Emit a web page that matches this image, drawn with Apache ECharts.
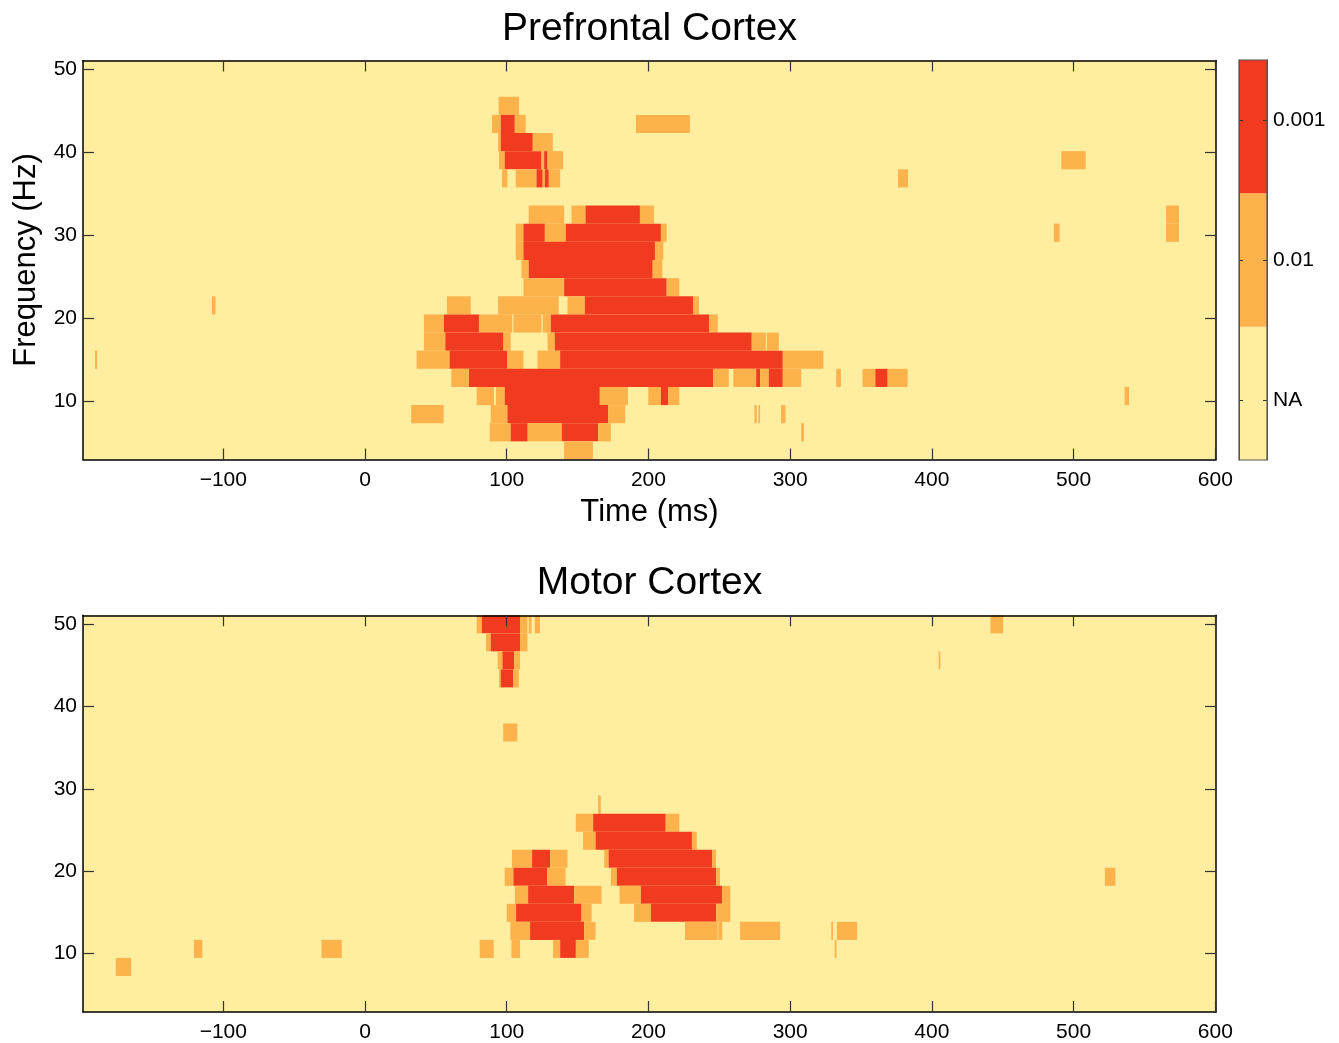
<!DOCTYPE html>
<html>
<head>
<meta charset="utf-8">
<script src="https://cdn.jsdelivr.net/npm/echarts@6/dist/echarts.min.js"></script>
<style>
html,body{margin:0;padding:0;background:#fff;}
#chart{width:1339px;height:1043px;}
</style>
</head>
<body>
<div id="chart"></div>
<script>
// ---- DATA ----
const panelTitles = ['Prefrontal Cortex', 'Motor Cortex'];
// frequency bin centres (Hz), 22 rows
const freqs = [4.00, 6.19, 8.38, 10.57, 12.76, 14.95, 17.14, 19.33, 21.52, 23.71, 25.90,
               28.10, 30.29, 32.48, 34.67, 36.86, 39.05, 41.24, 43.43, 45.62, 47.81, 50.00];
const xTickValues = [-100, 0, 100, 200, 300, 400, 500, 600];
const yTickValues = [10, 20, 30, 40, 50];
const levelNames = ['NA', '0.01', '0.001'];
// significant runs: [startMs, endMs, freqHz, level]  level 1 = p<0.01, 2 = p<0.001
const pfcRuns = [
  [94.3,108.7,45.62,1],
  [89.6,95.8,43.43,1],[95.8,105.7,43.43,2],[105.7,113.4,43.43,1],[191.2,229.3,43.43,1],
  [93.9,95.8,41.24,1],[95.8,118.4,41.24,2],[118.4,132.5,41.24,1],
  [94.6,98.6,39.05,1],[98.6,124.5,39.05,2],[124.5,126.4,39.05,1],[126.4,128.8,39.05,2],[128.8,139.8,39.05,1],[491.3,508.5,39.05,1],
  [96.7,100.5,36.86,1],[106.4,121.0,36.86,1],[121.0,125.4,36.86,2],[125.4,126.9,36.86,1],[126.9,129.7,36.86,2],[129.7,137.7,36.86,1],[376.1,383.2,36.86,1],
  [115.5,140.5,32.48,1],[145.7,155.6,32.48,1],[155.6,194.0,32.48,2],[194.0,203.9,32.48,1],[565.2,574.4,32.48,1],
  [106.4,111.8,30.29,1],[111.8,126.9,30.29,2],[126.9,141.7,30.29,1],[141.7,208.8,30.29,2],[208.8,212.9,30.29,1],[486.1,490.1,30.29,1],[565.2,574.4,30.29,1],
  [106.4,111.8,28.10,1],[111.8,204.6,28.10,2],[204.6,210.5,28.10,1],
  [110.4,115.5,25.90,1],[115.5,203.0,25.90,2],[203.0,209.8,25.90,1],
  [111.8,140.5,23.71,1],[140.5,212.9,23.71,2],[212.9,221.8,23.71,1],
  [-108.0,-105.5,21.52,1],[57.8,74.6,21.52,1],[93.9,136.7,21.52,1],[142.9,155.1,21.52,1],[155.1,231.7,21.52,2],[231.7,235.7,21.52,1],
  [41.6,55.7,19.33,1],[55.7,80.4,19.33,2],[80.4,103.9,19.33,1],[104.7,124.5,19.33,1],[125.4,131.1,19.33,1],[131.1,242.8,19.33,2],[242.8,248.9,19.33,1],
  [41.6,56.7,17.14,1],[56.7,97.7,17.14,2],[97.7,102.8,17.14,1],[128.8,133.9,17.14,1],[133.9,272.9,17.14,2],[272.9,282.8,17.14,1],[283.5,292.0,17.14,1],
  [-190.5,-189.0,14.95,1],[36.4,59.7,14.95,1],[59.7,100.5,14.95,2],[100.5,111.8,14.95,1],[121.7,137.7,14.95,1],[137.7,294.8,14.95,2],[294.8,323.5,14.95,1],
  [60.9,73.4,12.76,1],[73.4,245.8,12.76,2],[245.8,256.7,12.76,1],[259.9,276.0,12.76,1],[276.0,278.8,12.76,2],[278.8,284.9,12.76,1],[284.9,294.8,12.76,2],[294.8,307.8,12.76,1],[332.5,335.8,12.76,1],[351.1,360.1,12.76,1],[360.1,368.8,12.76,2],[368.8,382.9,12.76,1],
  [78.8,91.0,10.57,1],[92.4,98.6,10.57,1],[98.6,165.7,10.57,2],[165.7,185.5,10.57,1],[199.9,208.8,10.57,1],[208.8,213.8,10.57,2],[213.8,221.8,10.57,1],[536.0,539.1,10.57,1],
  [32.6,55.5,8.38,1],[88.7,100.5,8.38,1],[100.5,171.6,8.38,2],[171.6,183.6,8.38,1],[274.8,276.5,8.38,1],[277.6,278.8,8.38,1],[293.6,296.7,8.38,1],
  [88.0,102.8,6.19,1],[102.8,114.8,6.19,2],[114.8,138.9,6.19,1],[138.9,164.5,6.19,2],[164.5,173.5,6.19,1],[307.8,309.7,6.19,1],
  [140.5,160.8,4.00,1]
];
const mcRuns = [
  [78.8,82.5,50.00,1],[82.5,109.4,50.00,2],[109.4,114.6,50.00,1],[115.5,117.5,50.00,1],[119.8,123.5,50.00,1],[441.3,450.3,50.00,1],
  [85.4,88.7,47.81,1],[88.7,109.4,47.81,2],[109.4,114.6,47.81,1],
  [93.6,97.0,45.62,1],[97.0,105.2,45.62,2],[105.2,109.4,45.62,1],[404.8,406.0,45.62,1],
  [94.6,95.8,43.43,1],[95.8,104.7,43.43,2],[104.7,108.5,43.43,1],
  [97.5,107.5,36.86,1],
  [164.5,166.4,28.10,1],
  [148.8,161.0,25.90,1],[161.0,212.2,25.90,2],[212.2,221.8,25.90,1],
  [153.9,162.7,23.71,1],[162.7,230.7,23.71,2],[230.7,234.1,23.71,1],
  [103.7,117.9,21.52,1],[117.9,130.6,21.52,2],[130.6,142.9,21.52,1],[168.8,171.9,21.52,1],[171.9,245.1,21.52,2],[245.1,247.7,21.52,1],
  [98.6,104.7,19.33,1],[104.7,128.5,19.33,2],[128.5,141.5,19.33,1],[173.5,177.7,19.33,1],[177.7,247.9,19.33,2],[247.9,250.5,19.33,1],[522.1,529.5,19.33,1],
  [105.7,115.1,17.14,1],[115.1,147.6,17.14,2],[147.6,166.9,17.14,1],[179.6,194.7,17.14,1],[194.7,251.9,17.14,2],[251.9,257.8,17.14,1],
  [100.0,106.6,14.95,1],[106.6,152.8,14.95,2],[152.8,159.9,14.95,1],[189.8,201.8,14.95,1],[201.8,247.7,14.95,2],[247.7,257.8,14.95,1],
  [102.6,116.5,12.76,1],[116.5,154.6,12.76,2],[154.6,162.7,12.76,1],[225.8,248.9,12.76,1],[249.3,252.1,12.76,1],[264.7,292.9,12.76,1],[329.0,330.2,12.76,1],[333.0,347.3,12.76,1],
  [-120.7,-114.8,10.57,1],[-30.7,-16.4,10.57,1],[80.9,90.8,10.57,1],[103.3,109.4,10.57,1],[132.7,137.7,10.57,1],[137.7,148.8,10.57,2],[148.8,157.9,10.57,1],[331.4,332.7,10.57,1],
  [-175.8,-165.0,8.38,1]
];
const colorbarBlocks = [[0,1,0],[1,2,1],[2,3,2]];
const colorbarTickPos = [0.45, 1.5, 2.55];

// ---- STYLE ----
const FONT = 'Liberation Sans, Arial, Helvetica, sans-serif';
const COLORS = ['#FFEDA0', '#FEB24C', '#F03B20'];
const HALF = 23 / 21; // half of frequency bin width
const T_MIN = -199, T_MAX = 600.5;
const F_MIN = freqs[0] - HALF, F_MAX = freqs[freqs.length - 1] + HALF;

const chart = echarts.init(document.getElementById('chart'), null, {renderer: 'canvas'});

function renderRun(params, api) {
  const t0 = api.value(0), t1 = api.value(1), f = api.value(2), lvl = api.value(3);
  const p0 = api.coord([t0, f + HALF]);
  const p1 = api.coord([t1, f - HALF]);
  const cs = params.coordSys;
  const shape = echarts.graphic.clipRectByRect(
    {x: p0[0], y: p0[1], width: p1[0] - p0[0], height: p1[1] - p0[1]},
    {x: cs.x, y: cs.y, width: cs.width, height: cs.height});
  if (!shape) return;
  return {type: 'rect', shape: shape, style: {fill: COLORS[lvl]}};
}
function renderBlock(params, api) {
  const p0 = api.coord([0, api.value(1)]);
  const p1 = api.coord([1, api.value(0)]);
  return {type: 'rect', shape: {x: p0[0], y: p0[1], width: p1[0] - p0[0], height: p1[1] - p0[1]},
          style: {fill: COLORS[api.value(2)]}};
}
function fmtNum(v) { return String(v).replace('-', '\u2212'); }

const tickStyle = {color: '#333', width: 1.2};
const lineStyle = {color: '#000', width: 1.5};
const labelStyle = {fontSize: 21, color: '#000', fontFamily: FONT};
const nameStyle = {fontSize: 31, color: '#000', fontFamily: FONT};

function xAx(grid, pos, showLabel, name) {
  return {
    type: 'value', gridIndex: grid, position: pos, min: T_MIN, max: T_MAX, z: 10,
    axisLine: {show: true, onZero: false, lineStyle: lineStyle},
    axisTick: {show: true, inside: true, length: 11, customValues: xTickValues, lineStyle: tickStyle},
    axisLabel: Object.assign({show: showLabel, margin: 10, customValues: xTickValues, formatter: fmtNum}, labelStyle),
    splitLine: {show: false},
    name: name || '', nameLocation: 'middle', nameGap: 37, nameTextStyle: nameStyle
  };
}
function yAx(grid, pos, showLabel, name) {
  return {
    type: 'value', gridIndex: grid, position: pos, min: F_MIN, max: F_MAX, z: 10,
    axisLine: {show: true, onZero: false, lineStyle: lineStyle},
    axisTick: {show: true, inside: true, length: 11, customValues: yTickValues, lineStyle: tickStyle},
    axisLabel: Object.assign({show: showLabel, margin: 6, customValues: yTickValues}, labelStyle),
    splitLine: {show: false},
    name: name || '', nameLocation: 'middle', nameGap: 41, nameTextStyle: nameStyle
  };
}
const titleStyle = {fontSize: 39, fontWeight: 'normal', color: '#000', fontFamily: FONT};

const option = {
  backgroundColor: '#fff',
  animation: false,
  title: [
    {text: panelTitles[0], left: 644.5, textAlign: 'center', top: 5, textStyle: titleStyle},
    {text: panelTitles[1], left: 644.5, textAlign: 'center', top: 559, textStyle: titleStyle}
  ],
  grid: [
    {left: 83, top: 60.5, width: 1133, height: 399, show: true, backgroundColor: COLORS[0], borderWidth: 0},
    {left: 83, top: 615.3, width: 1133, height: 398, show: true, backgroundColor: COLORS[0], borderWidth: 0},
    {left: 1239, top: 60, width: 28, height: 400, show: false}
  ],
  xAxis: [
    xAx(0, 'bottom', true, 'Time (ms)'),
    xAx(0, 'top', false),
    xAx(1, 'bottom', true),
    xAx(1, 'top', false),
    {type: 'value', gridIndex: 2, min: 0, max: 1, show: false}
  ],
  yAxis: [
    yAx(0, 'left', true, 'Frequency (Hz)'),
    yAx(0, 'right', false),
    yAx(1, 'left', true),
    yAx(1, 'right', false),
    {
      type: 'value', gridIndex: 2, position: 'right', min: 0, max: 3, z: 10,
      axisLine: {show: true, onZero: false, lineStyle: {color: '#555', width: 1}},
      axisTick: {show: true, inside: true, length: 4, customValues: colorbarTickPos, lineStyle: {color: '#333'}},
      axisLabel: Object.assign({margin: 6, customValues: colorbarTickPos,
        formatter: function (v) { const i = colorbarTickPos.indexOf(v); return i >= 0 ? levelNames[i] : ''; }}, labelStyle),
      splitLine: {show: false}
    },
    {
      type: 'value', gridIndex: 2, position: 'left', min: 0, max: 3, z: 10,
      axisLine: {show: true, onZero: false, lineStyle: {color: '#555', width: 1}},
      axisTick: {show: true, inside: true, length: 4, customValues: colorbarTickPos, lineStyle: {color: '#333'}},
      axisLabel: {show: false},
      splitLine: {show: false}
    }
  ],
  series: [
    {type: 'custom', xAxisIndex: 0, yAxisIndex: 0, data: pfcRuns, renderItem: renderRun, silent: true, z: 1},
    {type: 'custom', xAxisIndex: 2, yAxisIndex: 2, data: mcRuns, renderItem: renderRun, silent: true, z: 1},
    {type: 'custom', xAxisIndex: 4, yAxisIndex: 4, data: colorbarBlocks, renderItem: renderBlock, silent: true, z: 1}
  ],
  graphic: [
    {type: 'rect', shape: {x: 1239, y: 60, width: 28, height: 400}, style: {fill: 'none', stroke: '#555', lineWidth: 1.2}, z: 100}
  ]
};
chart.setOption(option);
</script>
</body>
</html>
